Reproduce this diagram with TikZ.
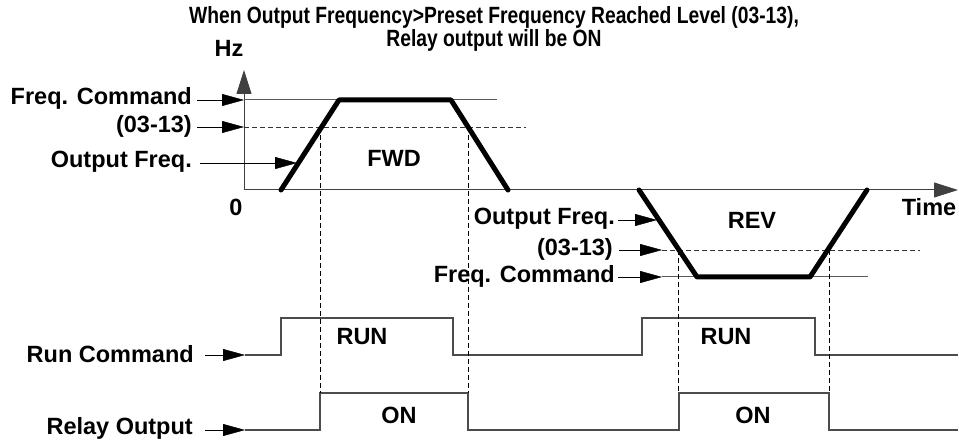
\documentclass[tikz,border=0pt]{standalone}
\usepackage{fontspec}
\setmainfont{Liberation Sans}
\newfontfamily\titlefont[FakeStretch=0.82]{Liberation Sans}
\usetikzlibrary{arrows.meta}
\tikzstyle{tag} = [
    font=\fontsize{23.5}{23}\selectfont\bfseries,
    inner sep=0pt
]
\tikzstyle{arrow} = [
    thin,
    -{Triangle[length=22pt,width=12pt]}
]
\tikzstyle{axis} = [
    black!75,
    line width=1pt,
    -{Triangle[length=24pt,width=15pt]}
]
\tikzstyle{refline} = [black!65, line width=1pt]
\tikzstyle{levelline} = [black!80, line width=0.8pt, dash pattern=on 5pt off 3pt]
\tikzstyle{guide} = [black, line width=0.7pt, dash pattern=on 5pt off 3pt]
\tikzstyle{profile} = [line width=5pt, line cap=round, line join=round]
\tikzstyle{signal} = [black!70, line width=1.2pt]

\begin{document}
\begin{tikzpicture}[x=1pt,y=-1pt]
\useasboundingbox (0,0) rectangle (959,446);

\node (title) [tag, align=center] at (494,29)
{\titlefont When Output Frequency>Preset Frequency Reached Level (03-13),\\
\titlefont Relay output will be ON};

% axes
\coordinate (origin) at (244,190);
\coordinate (ytop) at (244,70);
\coordinate (xend) at (958,190);
\draw [axis] (origin) -- (ytop);
\draw [axis] (origin) -- (xend);
\node (hz) [tag] at (229,48) {Hz};
\node (zero) [tag] at (236,207) {0};
\node (time) [tag] at (929,207) {Time};

% forward run
\node (fcmd1) [tag, anchor=east] at (192,98) {Freq. Command};
\node (lvl1) [tag, anchor=east] at (192,126) {(03-13)};
\node (fout1) [tag, anchor=east] at (192,162) {Output Freq.};
\coordinate (fcmdL1) at (244,100);
\coordinate (fcmdR1) at (497,100);
\coordinate (lvlL1) at (244,127);
\coordinate (lvlR1) at (526,127);
\coordinate (fout1tip) at (297,163);
\draw [refline] (fcmdL1) -- (fcmdR1);
\draw [levelline] (lvlL1) -- (lvlR1);
\draw [arrow] (fcmd1.east |- fcmdL1) ++(5,0) -- (fcmdL1);
\draw [arrow] (lvl1.east |- lvlL1) ++(5,0) -- (lvlL1);
\draw [arrow] (fout1.east |- fout1tip) ++(8,0) -- (fout1tip);
\draw [profile] (281,190) -- (339,100) -- (451,100) -- (508,190);
\node (fwd) [tag] at (394,158) {FWD};

% reverse run
\node (fout2) [tag, anchor=east] at (615,219) {Output Freq.};
\node (lvl2) [tag, anchor=east] at (613,249) {(03-13)};
\node (fcmd2) [tag, anchor=east] at (615,276) {Freq. Command};
\coordinate (fout2tip) at (657,220);
\coordinate (lvlL2) at (662,250);
\coordinate (lvlR2) at (920,250);
\coordinate (fcmdL2) at (662,277);
\coordinate (fcmdR2) at (868,277);
\draw [refline] (fcmdL2) -- (fcmdR2);
\draw [levelline] (lvlL2) -- (lvlR2);
\draw [arrow] (fout2.east |- fout2tip) ++(3,0) -- (fout2tip);
\draw [arrow] (lvl2.east |- lvlL2) ++(6,0) -- (lvlL2);
\draw [arrow] (fcmd2.east |- fcmdL2) ++(3,0) -- (fcmdL2);
\draw [profile] (639,190) -- (697,277) -- (810,277) -- (867,190);
\node (rev) [tag] at (752,220) {REV};

% timing signals
\node (runcmd) [tag, anchor=east] at (194,354) {Run Command};
\node (relay) [tag, anchor=east] at (193,428) {Relay Output};
\coordinate (runL) at (245,355);
\coordinate (relayL) at (245,430);
\draw [arrow] (runcmd.east |- runL) ++(11,0) -- (runL);
\draw [arrow] (relay.east |- relayL) ++(12,0) -- (relayL);
\draw [signal] (runL) -- (281,355) -- (281,318) -- (453,318) -- (453,355)
    -- (642,355) -- (642,318) -- (815,318) -- (815,355) -- (958,355);
\draw [signal] (relayL) -- (320,430) -- (320,393) -- (468,393) -- (468,430)
    -- (679,430) -- (679,393) -- (829,393) -- (829,430) -- (958,430);
\node (run1) [tag] at (362,337) {RUN};
\node (run2) [tag] at (726,337) {RUN};
\node (on1) [tag] at (399,415) {ON};
\node (on2) [tag] at (753,415) {ON};

% level crossings
\draw [guide] (320,127) -- (320,393);
\draw [guide] (468,127) -- (468,393);
\draw [guide] (678,250) -- (678,393);
\draw [guide] (829,250) -- (829,393);

\end{tikzpicture}
\end{document}
